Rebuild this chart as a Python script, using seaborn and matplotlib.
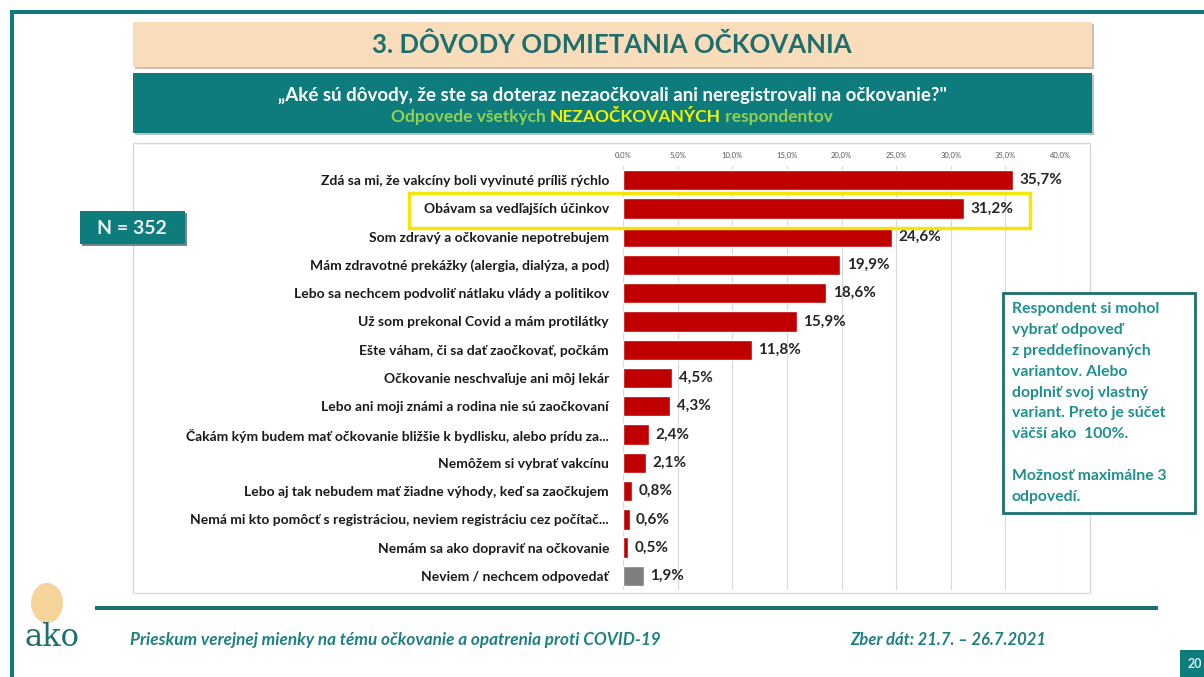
import numpy as np
import pandas as pd
import seaborn as sns
import matplotlib.pyplot as plt
from matplotlib.patches import Rectangle, Ellipse

# data
reasons = [
    "Zdá sa mi, že vakcíny boli vyvinuté príliš rýchlo",
    "Obávam sa vedľajších účinkov",
    "Som zdravý a očkovanie nepotrebujem",
    "Mám zdravotné prekážky (alergia, dialýza, a pod)",
    "Lebo sa nechcem podvoliť nátlaku vlády a politikov",
    "Už som prekonal Covid a mám protilátky",
    "Ešte váham, či sa dať zaočkovať, počkám",
    "Očkovanie neschvaľuje ani môj lekár",
    "Lebo ani moji známi a rodina nie sú zaočkovaní",
    "Čakám kým budem mať očkovanie bližšie k bydlisku, alebo prídu za...",
    "Nemôžem si vybrať vakcínu",
    "Lebo aj tak nebudem mať žiadne výhody, keď sa zaočkujem",
    "Nemá mi kto pomôcť s registráciou, neviem registráciu cez počítač...",
    "Nemám sa ako dopraviť na očkovanie",
    "Neviem / nechcem odpovedať",
]
shares = [35.7, 31.2, 24.6, 19.9, 18.6, 15.9, 11.8, 4.5, 4.3, 2.4, 2.1, 0.8, 0.6, 0.5, 1.9]
bar_colors = ["#C00000"] * 14 + ["#7F7F7F"]
ticks = [0, 5, 10, 15, 20, 25, 30, 35, 40]
tick_labels = ["0,0%", "5,0%", "10,0%", "15,0%", "20,0%", "25,0%", "30,0%", "35,0%", "40,0%"]

note_lines = [
    "Respondent si mohol",
    "vybrať odpoveď",
    "z preddefinovaných",
    "variantov. Alebo",
    "doplniť svoj vlastný",
    "variant. Preto je súčet",
    "väčší ako  100%.",
    "",
    "Možnosť maximálne 3",
    "odpovedí.",
]

df = pd.DataFrame({"reason": reasons, "share": shares})

W, H = 1204, 677
TEAL = "#0E7C7C"

sns.set_theme(style="white")
plt.rcParams["font.family"] = ["Lato", "DejaVu Sans"]

fig = plt.figure(figsize=(W / 100, H / 100), dpi=100)


# helpers in pixel coords (origin top-left)
def box(x0, y0, x1, y1, **kw):
    r = Rectangle((x0 / W, 1 - y1 / H), (x1 - x0) / W, (y1 - y0) / H,
                  transform=fig.transFigure, **kw)
    fig.add_artist(r)
    return r


def txt(x, y, s, **kw):
    return fig.text(x / W, 1 - y / H, s, **kw)


# slide frame
box(10, 10, 1204, 14, facecolor=TEAL, edgecolor="none", zorder=-2)
box(10, 10, 14, 677, facecolor=TEAL, edgecolor="none", zorder=-2)

# title band
box(135, 24, 1094, 69, facecolor="#C9C0B5", edgecolor="none", zorder=-2)
box(133, 22, 1092, 67, facecolor="#F9DCBA", edgecolor="none", zorder=-1)
txt(612, 45, "3. DÔVODY ODMIETANIA OČKOVANIA", ha="center", va="center",
    fontsize=18.5, fontweight="bold", color="#1E6E6E")

# subtitle band
box(135, 75, 1094, 135, facecolor="#B8C4C4", edgecolor="none", zorder=-2)
box(133, 73, 1092, 133, facecolor=TEAL, edgecolor="none", zorder=-1)
txt(612, 95, "„Aké sú dôvody, že ste sa doteraz nezaočkovali ani neregistrovali na očkovanie?\"",
    ha="center", va="center", fontsize=13.5, fontweight="bold", color="white")
parts = [("Odpovede všetkých ", "#92D050"), ("NEZAOČKOVANÝCH", "#F2F200"), (" respondentov", "#92D050")]
pieces = [txt(0, 117, s, ha="left", va="center", fontsize=12.5, fontweight="bold", color=c)
          for s, c in parts]
renderer = fig.canvas.get_renderer()
widths = [p.get_window_extent(renderer).width for p in pieces]
x = 612 - sum(widths) / 2
for p, w in zip(pieces, widths):
    p.set_x(x / W)
    x += w

# chart panel
box(133, 143, 1090, 593, facecolor="white", edgecolor="#D9D9D9", linewidth=1, zorder=-1)

ax = fig.add_axes([623 / W, 1 - 590 / H, 437 / W, 424 / H])
ax.patch.set_alpha(0)
sns.barplot(data=df, x="share", y="reason", hue="reason", palette=bar_colors,
            legend=False, ax=ax, width=0.72, saturation=1, orient="h")
for i, v in enumerate(df["share"]):
    ax.text(v + 0.6, i, f"{v:.1f}".replace(".", ",") + "%", va="center", ha="left",
            fontsize=11, fontweight="bold", color="#262626")

ax.set_xlim(0, 40)
ax.set_ylim(len(reasons) - 0.5, -0.5)
ax.set_xticks(ticks)
ax.set_xticklabels(tick_labels, fontsize=5.5, color="#595959")
ax.xaxis.tick_top()
ax.tick_params(axis="x", length=0, pad=5)
ax.tick_params(axis="y", length=0, pad=10, labelsize=10)
for lab in ax.get_yticklabels():
    lab.set_fontweight("bold")
    lab.set_color("#1A1A1A")
ax.grid(axis="x", color="#D9D9D9", linewidth=0.8)
ax.set_axisbelow(True)
ax.set_xlabel("")
ax.set_ylabel("")
sns.despine(ax=ax, left=True, bottom=True, top=True, right=True)

# highlight around the second reason
box(409, 193, 1030, 228, facecolor="none", edgecolor="#F5E50A", linewidth=2.5, zorder=5)

# N box
box(82, 213, 187, 246, facecolor="#6E8A8A", edgecolor="none", zorder=-1)
box(80, 211, 185, 244, facecolor=TEAL, edgecolor="none", zorder=1)
txt(132, 228, "N = 352", ha="center", va="center", fontsize=14, fontweight="bold",
    color="#E8F4F0", zorder=2)

# note box
box(1003, 293, 1195, 513, facecolor="white", edgecolor="#1E7070", linewidth=2, zorder=1)
for k, line in enumerate(note_lines):
    txt(1012, 309 + k * 20.9, line, ha="left", va="center", fontsize=11.3,
        fontweight="bold", color="#1E9090", zorder=2)

# footer
box(95, 606, 1158, 610, facecolor="#1E7070", edgecolor="none")
txt(130, 640, "Prieskum verejnej mienky na tému očkovanie a opatrenia proti COVID-19",
    ha="left", va="center", fontsize=12.3, fontweight="bold", style="italic", color="#1E8080")
txt(850, 640, "Zber dát: 21.7. – 26.7.2021", ha="left", va="center", fontsize=12,
    fontweight="bold", style="italic", color="#1E8080")

# logo (simplified)
logo = Ellipse((47 / W, 1 - 603 / H), 32 / W, 40 / H, transform=fig.transFigure,
               facecolor="#F5D49A", edgecolor="none")
fig.add_artist(logo)
txt(52, 638, "ako", ha="center", va="center", fontsize=22, color="#1E7070", family="DejaVu Serif")

# page number tab
box(1180, 650, 1204, 677, facecolor=TEAL, edgecolor="none")
txt(1188, 664, "20", ha="left", va="center", fontsize=9, fontweight="bold", color="#D8ECEC")

fig.savefig("out.png", dpi=100)
